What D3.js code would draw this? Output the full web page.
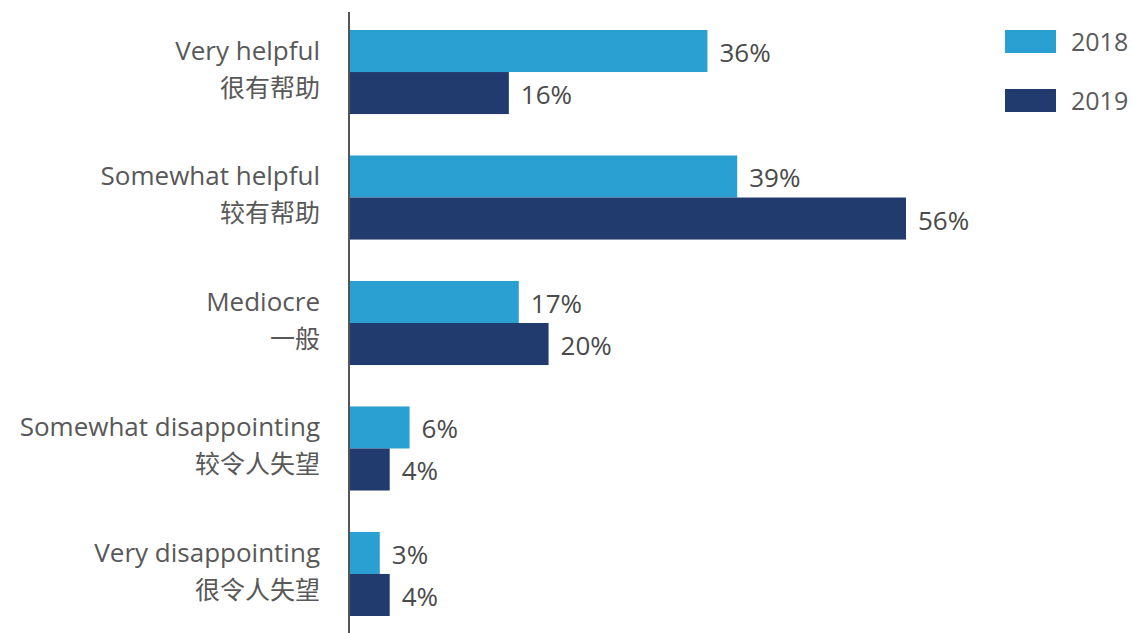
<!DOCTYPE html>
<html>
<head>
<meta charset="utf-8">
<script src="https://cdn.jsdelivr.net/npm/d3@7"></script>
<style>
  html, body { margin: 0; padding: 0; background: #ffffff; }
  svg { display: block; }
  text { font-family: "Open Sans", "Noto Sans", "Noto Sans CJK SC", sans-serif; }
</style>
</head>
<body>
<svg id="chart" width="1132" height="633"></svg>
<script>
// Survey answers, English label with its Chinese counterpart
const categories = [
  "Very helpful",
  "Somewhat helpful",
  "Mediocre",
  "Somewhat disappointing",
  "Very disappointing"
];
const categoriesZh = ["很有帮助", "较有帮助", "一般", "较令人失望", "很令人失望"];
const seriesNames = ["2018", "2019"];
const values2018 = [36, 39, 17, 6, 3];
const values2019 = [16, 56, 20, 4, 4];
const seriesColors = ["#2a9fd2", "#223b6f"];

const svg = d3.select("#chart");

const rows = categories.map((c, i) => ({
  name: c,
  zh: categoriesZh[i],
  vals: [values2018[i], values2019[i]]
}));

const x = d3.scaleLinear().domain([0, 56]).range([350, 906]);
const y = d3.scaleBand().domain(categories).range([30, 616]).paddingInner(0.33).paddingOuter(0);
const ySub = d3.scaleBand().domain(seriesNames).range([0, y.bandwidth()]).padding(0);

const groups = svg.selectAll("g.group")
  .data(rows)
  .join("g")
  .attr("class", "group")
  .attr("transform", d => `translate(0,${y(d.name)})`);

// bars
groups.selectAll("rect")
  .data(d => d.vals.map((v, k) => ({ v, k })))
  .join("rect")
  .attr("x", x(0))
  .attr("y", d => ySub(seriesNames[d.k]))
  .attr("width", d => x(d.v) - x(0))
  .attr("height", ySub.bandwidth())
  .attr("fill", d => seriesColors[d.k]);

// value labels
groups.selectAll("text.value")
  .data(d => d.vals.map((v, k) => ({ v, k })))
  .join("text")
  .attr("class", "value")
  .attr("x", d => x(d.v) + 12)
  .attr("y", d => ySub(seriesNames[d.k]) + ySub.bandwidth() / 2 + 11)
  .attr("font-size", 26)
  .attr("fill", "#4a4a4a")
  .text(d => d.v + "%");

// category labels (two lines)
groups.append("text")
  .attr("x", 320)
  .attr("y", 30)
  .attr("text-anchor", "end")
  .attr("font-size", 26)
  .attr("fill", "#585858")
  .text(d => d.name);

groups.append("text")
  .attr("x", 320)
  .attr("y", 67)
  .attr("text-anchor", "end")
  .attr("font-size", 25)
  .attr("fill", "#585858")
  .style("font-family", "'Noto Sans CJK SC', sans-serif")
  .text(d => d.zh);

// vertical axis line
svg.append("line")
  .attr("x1", 349).attr("x2", 349)
  .attr("y1", 12).attr("y2", 633)
  .attr("stroke", "#555")
  .attr("stroke-width", 2);

// legend
const legend = svg.selectAll("g.legend")
  .data(seriesNames)
  .join("g")
  .attr("class", "legend")
  .attr("transform", (d, i) => `translate(1005,${30 + i * 59})`);

legend.append("rect")
  .attr("width", 51)
  .attr("height", 23)
  .attr("fill", (d, i) => seriesColors[i]);

legend.append("text")
  .attr("x", 66)
  .attr("y", 21)
  .attr("font-size", 25)
  .attr("fill", "#5a5a5a")
  .text(d => d);
</script>
</body>
</html>
